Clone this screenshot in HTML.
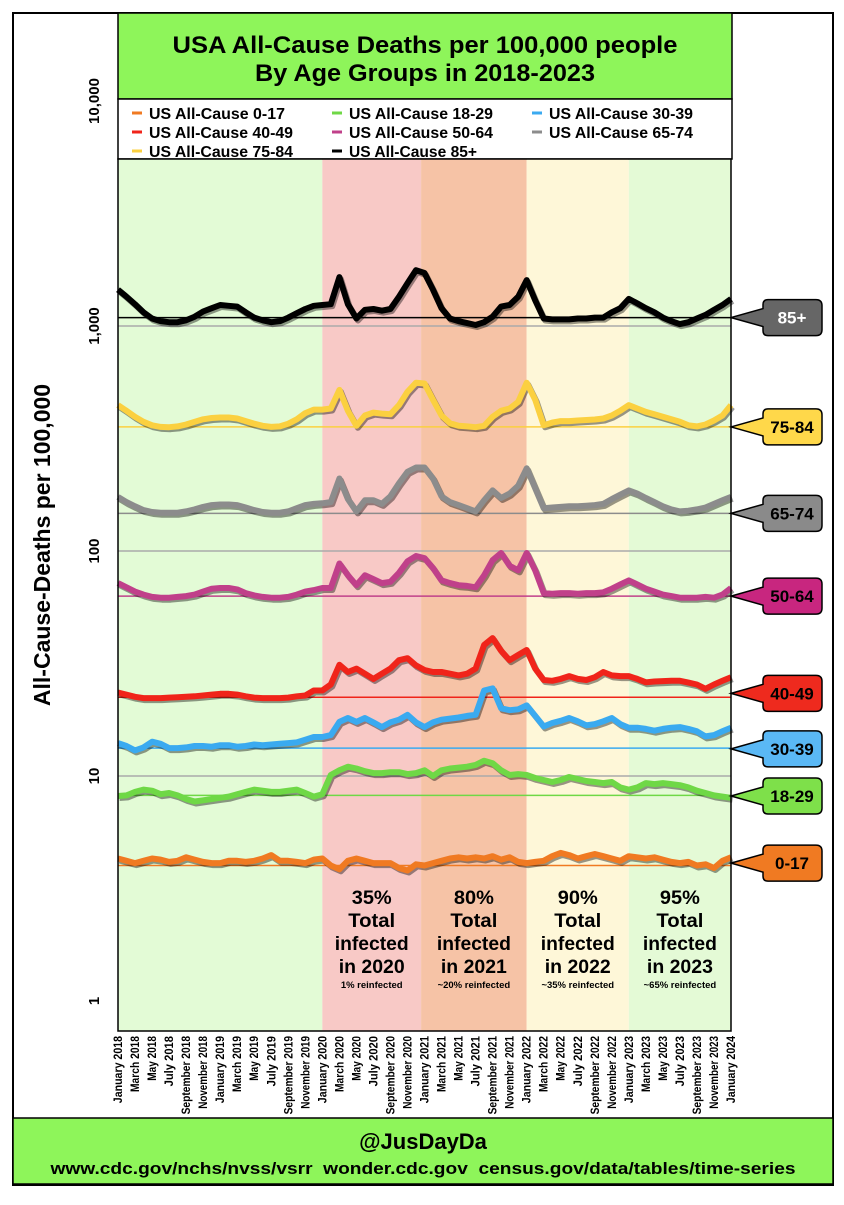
<!DOCTYPE html>
<html><head><meta charset="utf-8"><style>
html,body{margin:0;padding:0;background:#fff;}
svg text{font-family:"Liberation Sans",sans-serif;font-weight:bold;}
</style></head><body>
<svg id="chart" width="844" height="1200" viewBox="0 0 844 1200" xmlns="http://www.w3.org/2000/svg">
<rect x="13" y="13" width="820" height="1172" fill="#fff" stroke="#000" stroke-width="2"/>
<rect x="118" y="13" width="614" height="86" fill="#8ef55a" stroke="#000" stroke-width="1.5"/>
<text x="425" y="53" font-size="24" text-anchor="middle" textLength="505" lengthAdjust="spacingAndGlyphs">USA All-Cause Deaths per 100,000 people</text>
<text x="425" y="81" font-size="24" text-anchor="middle" textLength="340" lengthAdjust="spacingAndGlyphs">By Age Groups in 2018-2023</text>
<rect x="118" y="99" width="614" height="60" fill="#fff" stroke="#000" stroke-width="1.5"/>
<g id="legend"></g>
<g id="bands"></g>
<g id="grid"></g>
<g id="series"></g>
<rect x="118" y="159" width="613" height="872" fill="none" stroke="#000" stroke-width="1.5"/>
<g id="callouts"></g>
<g id="yaxis"></g>
<text transform="translate(50,545) rotate(-90)" font-size="23" text-anchor="middle">All-Cause-Deaths per 100,000</text>
<g id="notes"></g>
<g id="xaxis"></g>
<rect x="13" y="1118" width="820" height="66" fill="#8ef55a" stroke="#000" stroke-width="1.5"/>
<text x="423" y="1149" font-size="22" text-anchor="middle">@JusDayDa</text>
<text x="423" y="1174" font-size="17" text-anchor="middle" textLength="745" lengthAdjust="spacingAndGlyphs" xml:space="preserve">www.cdc.gov/nchs/nvss/vsrr  wonder.cdc.gov  census.gov/data/tables/time-series</text>
</svg>
<script>
const monthNames=["January","March","May","July","September","November"];
const seriesNames=["0-17","18-29","30-39","40-49","50-64","65-74","75-84","85+"];
const seriesColors=["#f07a22","#6fd846","#3aaaf0","#f0241a","#c0408a","#8c8c8c","#fbd040","#000000"];
const calloutColors=["#f07a22","#7ee04a","#5ab8f5","#ee2a1e","#c8267f","#8a8a8a","#ffd84a","#666666"];
const baselines=[4.0,8.2,13.3,22.4,63,147,356,1090];
const calloutYValues=[4.1,8.15,13.2,23.3,63,147,356,1090];
const yTicks=[1,10,100,1000,10000];
const yTickLabels=["1","10","100","1,000","10,000"];
const gridValues=[10,100,1000];
const s0=[4.3,4.2,4.1,4.2,4.3,4.25,4.15,4.2,4.35,4.25,4.15,4.1,4.1,4.2,4.2,4.15,4.2,4.3,4.45,4.2,4.2,4.15,4.1,4.25,4.3,4.0,3.85,4.2,4.3,4.2,4.1,4.1,4.1,3.9,3.8,4.05,4.0,4.1,4.2,4.3,4.35,4.3,4.35,4.3,4.4,4.25,4.35,4.15,4.1,4.15,4.2,4.4,4.55,4.45,4.3,4.4,4.5,4.4,4.3,4.2,4.4,4.35,4.3,4.35,4.25,4.15,4.1,4.15,4.0,4.05,3.9,4.2,4.35];
const s1=[8.15,8.2,8.5,8.7,8.6,8.3,8.4,8.2,7.9,7.7,7.8,7.9,8.0,8.1,8.3,8.5,8.7,8.6,8.5,8.5,8.6,8.7,8.4,8.1,8.3,10.1,10.6,11.0,10.8,10.5,10.3,10.3,10.4,10.4,10.2,10.3,10.6,10.0,10.6,10.8,10.9,11,11.2,11.7,11.4,10.6,10.1,10.2,10.1,9.8,9.6,9.4,9.6,9.9,9.7,9.5,9.4,9.3,9.4,8.9,8.7,8.9,9.3,9.2,9.3,9.2,9.1,8.9,8.6,8.4,8.2,8.1,8.0];
const s2=[14,13.6,13.0,13.4,14.2,13.9,13.3,13.3,13.4,13.6,13.6,13.5,13.7,13.7,13.5,13.6,13.8,13.7,13.8,13.9,14,14.1,14.5,14.9,14.9,15.2,17.4,18.1,17.4,18.1,17.3,16.5,17.3,17.8,18.7,17.3,16.5,17.3,17.8,18,18.2,18.5,18.7,24,24.5,20,19.6,19.8,20.6,18.5,16.6,17.2,17.6,18.1,17.5,16.8,17,17.5,18.1,17,16.4,16.4,16.2,15.9,16.2,16.4,16.5,16.2,15.8,15,15.2,15.8,16.4];
const s3=[23.5,23,22.5,22.2,22.2,22.2,22.3,22.4,22.5,22.6,22.8,23,23.2,23.2,23,22.6,22.3,22.2,22.2,22.2,22.3,22.6,22.8,24,24,25.5,31.2,29,30,28.5,27,28.5,30,32.7,33.4,31,29.6,29,29,28.5,28,28.5,30,38.2,41,36,32.7,34.5,36.3,30,26.7,26.5,27,27.8,27,26.7,27.5,29,28,27.8,27.8,27,26.1,26.3,26.4,26.5,26.5,26,25.5,24.4,25.5,26.5,27.5];
const s4=[72,69,66,64,62.5,62,62,62.5,63,64,66,68,68.5,68.5,67.5,65,63.5,62.5,62,62,62.5,64,66,67,68.5,68.5,88,78,70.5,78,75,72,73,80,90,95,93,84,74,72,70.5,70,69,78,91,98,86,82,98,82,65,64.5,65,65,64.5,65,65,65.5,68,71,74,71,68,66,64,63,62,62,62,62.5,62,64,68.5];
const s5=[174,165,158,152,149,148,148,148,150,153,157,160,161,161,160,156,152,149,148,148,150,155,160,162,163,165,210,170,150,168,168,162,175,200,225,235,235,210,175,165,160,155,150,168,186,172,180,195,233,190,155,156,157,158,158,159,160,162,170,178,186,180,172,165,158,153,150,151,153,156,162,168,174];
const s6=[445,420,395,375,362,356,355,358,365,375,385,390,392,392,388,378,368,360,356,358,368,385,410,425,425,430,520,420,360,400,412,408,405,445,510,560,555,470,400,370,360,358,355,360,395,420,430,460,560,470,362,372,378,378,380,382,384,388,400,420,445,430,415,405,395,385,375,362,358,365,380,400,445];
const s7=[1450,1350,1250,1150,1080,1050,1040,1040,1060,1100,1160,1200,1240,1230,1220,1150,1090,1060,1040,1050,1090,1140,1190,1230,1240,1250,1650,1250,1080,1180,1190,1170,1190,1350,1550,1770,1720,1450,1200,1080,1050,1030,1010,1040,1100,1220,1240,1350,1600,1300,1080,1070,1070,1070,1080,1080,1090,1090,1150,1200,1320,1260,1200,1150,1090,1050,1020,1040,1080,1120,1180,1240,1320];
const allSeries=[s0,s1,s2,s3,s4,s5,s6,s7];
const bandStarts=[0,24,35.6,48,60];
const bandEnds=[24,35.6,48,60,72];
const bandColors=["#e3fbd6","#f8c9c6","#f6c3a6","#fef7d8","#e4fad6"];
const notePct=["35%","80%","90%","95%"];
const noteYear=["2020","2021","2022","2023"];
const noteSmall=["1% reinfected","~20% reinfected","~35% reinfected","~65% reinfected"];

const NS="http://www.w3.org/2000/svg";
const X0=118,X1=731,Y1=1001,DEC=225;
const xs=i=>X0+i*(X1-X0)/72;
const ys=v=>Y1-Math.log10(v)*DEC;
function mk(tag,parent,attrs,txt){const e=document.createElementNS(NS,tag);for(const k in attrs)e.setAttribute(k,attrs[k]);if(txt!==undefined)e.textContent=txt;document.getElementById(parent).appendChild(e);return e;}

bandStarts.forEach((b,i)=>{
 const r=mk('rect','bands',{x:xs(b),y:159,width:xs(bandEnds[i])-xs(b),height:872,fill:bandColors[i]});
 
 
});
gridValues.forEach(v=>{
 const l=mk('line','grid',{x1:X0,x2:X1,y1:ys(v),y2:ys(v),stroke:'#aaa','stroke-width':1.5});
 
 
});
allSeries.forEach((s,k)=>{
 const b=mk('line','grid',{x1:X0,x2:X1,y1:ys(baselines[k]),y2:ys(baselines[k]),stroke:k==7?'#000':seriesColors[k],'stroke-width':1.5});
 
 
 const pts=s.map((v,i)=>xs(i).toFixed(1)+','+ys(v).toFixed(1)).join(' ');
 const sh=mk('polyline','series',{points:pts,fill:'none',stroke:'rgba(0,0,0,0.4)','stroke-width':6,'stroke-linejoin':'round',transform:'translate(1.5,2)'});
 
 
 const p=mk('polyline','series',{points:pts,fill:'none',stroke:seriesColors[k],'stroke-width':6,'stroke-linejoin':'round'});
 
 
 const cy=ys(calloutYValues[k]);
 const g=mk('g','callouts',{});
 
 
 const path=`M731,${cy} L763,${cy-9} L763,${cy-13} Q763,${cy-18} 768,${cy-18} L816,${cy-18} Q822,${cy-18} 822,${cy-12} L822,${cy+12} Q822,${cy+18} 816,${cy+18} L768,${cy+18} Q763,${cy+18} 763,${cy+13} L763,${cy+9} Z`;
 const pe=document.createElementNS(NS,'path');pe.setAttribute('d',path);pe.setAttribute('fill',calloutColors[k]);pe.setAttribute('stroke','#000');pe.setAttribute('stroke-width','1.5');g.appendChild(pe);
 const t=document.createElementNS(NS,'text');t.setAttribute('x',792);t.setAttribute('y',cy+6);t.setAttribute('font-size',17);t.setAttribute('text-anchor','middle');t.setAttribute('fill',k==7?'#fff':'#000');t.textContent=seriesNames[k];g.appendChild(t);
});
// legend
const legCols=[132,332,532], legRows=[119,138,157];
seriesNames.forEach((n,k)=>{
 const c=k%3,r=Math.floor(k/3);
 const g=mk('g','legend',{});
 
 
 const l=document.createElementNS(NS,'line');l.setAttribute('x1',legCols[c]);l.setAttribute('x2',legCols[c]+10);l.setAttribute('y1',legRows[r]-6);l.setAttribute('y2',legRows[r]-6);l.setAttribute('stroke',seriesColors[k]);l.setAttribute('stroke-width',3);g.appendChild(l);
 const t=document.createElementNS(NS,'text');t.setAttribute('x',legCols[c]+17);t.setAttribute('y',legRows[r]);t.setAttribute('font-size',16);t.setAttribute('textLength',(13+n.length)*8);t.setAttribute('lengthAdjust','spacingAndGlyphs');t.textContent='US All-Cause '+n;g.appendChild(t);
});
// y ticks
yTicks.forEach((v,i)=>{
 const y=ys(v);
 const t=mk('text','yaxis',{transform:`translate(99,${y}) rotate(-90)`,'font-size':15,'text-anchor':'middle'},yTickLabels[i]);
 
 
});
// x ticks
for(let i=0;i<=72;i+=2){
 const yr=2018+Math.floor(i/12);
 const lab=monthNames[(i%12)/2]+' '+yr;
 const t=mk('text','xaxis',{transform:`translate(${xs(i)+4},1036) rotate(-90)`,'font-size':11.5,'text-anchor':'end',textLength:lab.length*5.6,lengthAdjust:'spacingAndGlyphs'},lab);
 
 
}
// notes
notePct.forEach((p,i)=>{
 const cx=(xs(bandStarts[i+1])+xs(bandEnds[i+1]))/2;
 const g=mk('g','notes',{});
 
 
 [[p,904,40],["Total",927,47],["infected",950,74],["in "+noteYear[i],973,66]].forEach(([s,y,w])=>{const t=document.createElementNS(NS,'text');t.setAttribute('x',cx);t.setAttribute('y',y);t.setAttribute('font-size',19);t.setAttribute('text-anchor','middle');t.setAttribute('textLength',w);t.setAttribute('lengthAdjust','spacingAndGlyphs');t.textContent=s;g.appendChild(t);});
 const t=document.createElementNS(NS,'text');t.setAttribute('x',cx);t.setAttribute('y',988);t.setAttribute('font-size',9.5);t.setAttribute('text-anchor','middle');t.textContent=noteSmall[i];g.appendChild(t);
});
</script>
</body></html>
